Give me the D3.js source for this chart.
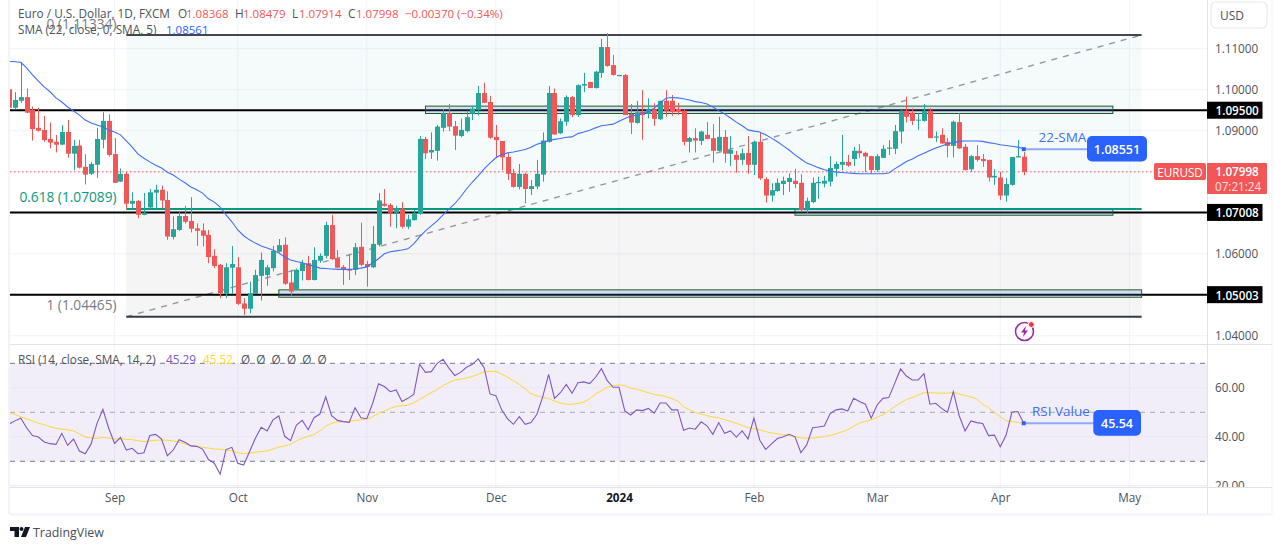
<!DOCTYPE html>
<html><head><meta charset="utf-8">
<script src="https://cdn.jsdelivr.net/npm/d3@7"></script>
<style>
html,body{margin:0;padding:0;background:#fff;overflow:hidden}
svg{display:block}
text{font-family:"Open Sans",sans-serif}
</style></head><body>
<svg id="c" width="1275" height="550"></svg>
<script>
// ---------- data (bars: Aug 2023 .. Apr 2024, index 0 = 1 Sep 2023) ----------
const firstBar = -18;
const opens = [1.1001,1.0956,1.0973,1.0982,1.0951,1.0907,1.0902,1.0880,1.0873,1.0866,1.0897,1.0844,1.0864,1.0812,1.0795,1.0817,1.0878,1.0924,
1.0843,1.0776,1.0795,1.0722,1.0729,1.0695,1.0713,1.0749,1.0756,1.0731,1.0641,1.0658,1.0692,1.0680,1.0662,1.0657,1.0646,1.0595,1.0573,1.0502,1.0566,
1.0567,1.0479,1.0466,1.0502,1.0546,1.0548,1.0565,1.0605,1.0622,1.0530,1.0514,1.0558,1.0577,1.0536,1.0583,1.0595,1.0670,1.0589,1.0568,1.0563,1.0561,1.0617,
1.0575,1.0567,1.0622,1.0722,1.0719,1.0700,1.0709,1.0666,1.0682,1.0697,1.0880,1.0847,1.0851,1.0907,1.0943,1.0911,1.0887,1.0899,1.0941,1.0951,1.0992,
1.0970,1.0885,1.0875,1.0836,1.0797,1.0763,1.0795,1.0758,1.0764,1.0793,1.0873,1.0992,1.0894,1.0922,1.0982,1.0938,1.1010,1.1019,1.1004,1.1041,1.1104,1.1060,1.1033,
1.1036,1.0941,1.0919,1.0946,1.0941,1.0952,1.0928,1.0973,1.0973,1.0953,1.0949,1.0873,1.0882,1.0875,1.0890,1.0882,1.0851,1.0885,1.0844,1.0841,1.0829,1.0846,1.0817,
1.0873,1.0782,1.0742,1.0753,1.0770,1.0775,1.0778,1.0773,1.0709,1.0726,1.0772,1.0771,1.0776,1.0807,1.0817,1.0824,1.0831,1.0851,1.0846,1.0838,1.0804,1.0834,1.0856,1.0856,1.0898,1.0949,1.0944,1.0925,1.0924,1.0949,1.0883,1.0890,1.0873,1.0863,1.0921,1.0861,1.0806,1.0838,1.0831,1.0829,1.0786,1.0786,1.0742,1.0768,1.0835,1.08368];
const highs = [1.1001,1.0994,1.1067,1.1003,1.0959,1.0956,1.0936,1.0920,1.0890,1.0914,1.0926,1.0878,1.0878,1.0843,1.0824,1.0907,1.0945,1.0940,
1.0882,1.0808,1.0799,1.0750,1.0731,1.0748,1.0758,1.0768,1.0766,1.0752,1.0691,1.0702,1.0717,1.0738,1.0674,1.0674,1.0658,1.0611,1.0575,1.0577,1.0619,
1.0592,1.0492,1.0532,1.0561,1.0603,1.0573,1.0619,1.0636,1.0640,1.0561,1.0564,1.0585,1.0595,1.0616,1.0601,1.0678,1.0695,1.0609,1.0573,1.0600,1.0626,1.0676,
1.0583,1.0668,1.0748,1.0758,1.0723,1.0717,1.0726,1.0695,1.0707,1.0887,1.0885,1.0896,1.0914,1.0953,1.0965,1.0924,1.0930,1.0949,1.0960,1.1009,1.1017,
1.0985,1.0914,1.0875,1.0846,1.0807,1.0819,1.0798,1.0780,1.0829,1.0896,1.1009,1.1003,1.0930,1.0986,1.0985,1.1013,1.1041,1.1019,1.1046,1.1124,1.1138,1.1085,1.1036,
1.1038,1.0965,1.0973,1.0999,1.0979,1.0967,1.0973,1.0999,1.0987,1.0968,1.0952,1.0885,1.0906,1.0900,1.0921,1.0916,1.0934,1.0902,1.0887,1.0851,1.0857,1.0887,1.0876,
1.0896,1.0787,1.0772,1.0784,1.0788,1.0796,1.0807,1.0794,1.0737,1.0786,1.0788,1.0790,1.0838,1.0825,1.0890,1.0841,1.0861,1.0867,1.0849,1.0838,1.0843,1.0865,1.0877,1.0914,1.0951,1.0983,1.0955,1.0943,1.0965,1.0955,1.0898,1.0906,1.0882,1.0925,1.0943,1.0868,1.0841,1.0865,1.0843,1.0829,1.0806,1.0800,1.0785,1.0836,1.0877,1.08479];
const lows = [1.0953,1.0952,1.0968,1.0943,1.0876,1.0898,1.0873,1.0857,1.0847,1.0865,1.0834,1.0804,1.0808,1.0769,1.0792,1.0785,1.0857,1.0837,
1.0773,1.0775,1.0709,1.0709,1.0687,1.0694,1.0709,1.0709,1.0711,1.0634,1.0635,1.0656,1.0674,1.0652,1.0619,1.0618,1.0577,1.0565,1.0492,1.0492,1.0502,
1.0475,1.0451,1.0455,1.0502,1.0486,1.0522,1.0557,1.0603,1.0524,1.0498,1.0512,1.0535,1.0535,1.0535,1.0578,1.0589,1.0585,1.0565,1.0524,1.0536,1.0548,1.0570,
1.0520,1.0565,1.0618,1.0715,1.0666,1.0662,1.0662,1.0660,1.0681,1.0695,1.0831,1.0831,1.0827,1.0898,1.0899,1.0853,1.0884,1.0896,1.0926,1.0937,1.0967,
1.0880,1.0833,1.0804,1.0780,1.0761,1.0757,1.0723,1.0743,1.0758,1.0776,1.0871,1.0890,1.0892,1.0912,1.0933,1.0934,1.0994,1.1004,1.1003,1.1029,1.1056,1.1034,1.1033,
1.0938,1.0892,1.0917,1.0878,1.0930,1.0912,1.0926,1.0934,1.0936,1.0938,1.0864,1.0847,1.0847,1.0865,1.0879,1.0822,1.0849,1.0822,1.0814,1.0798,1.0817,1.0795,1.0792,
1.0780,1.0725,1.0727,1.0751,1.0743,1.0751,1.0760,1.0703,1.0697,1.0723,1.0734,1.0762,1.0764,1.0788,1.0804,1.0812,1.0814,1.0834,1.0799,1.0796,1.0800,1.0833,1.0841,1.0843,1.0869,1.0920,1.0914,1.0902,1.0922,1.0882,1.0873,1.0868,1.0835,1.0835,1.0856,1.0803,1.0800,1.0825,1.0812,1.0776,1.0768,1.0731,1.0727,1.0766,1.0835,1.07914];
const closes = [1.0956,1.0975,1.0982,1.0944,1.0904,1.0900,1.0877,1.0871,1.0866,1.0897,1.0844,1.0863,1.0810,1.0793,1.0819,1.0880,1.0924,1.0841,
1.0773,1.0795,1.0722,1.0729,1.0695,1.0700,1.0750,1.0756,1.0730,1.0642,1.0660,1.0692,1.0678,1.0661,1.0656,1.0644,1.0592,1.0570,1.0504,1.0567,1.0575,
1.0478,1.0466,1.0504,1.0548,1.0585,1.0567,1.0607,1.0621,1.0527,1.0508,1.0561,1.0577,1.0536,1.0585,1.0595,1.0670,1.0587,1.0566,1.0561,1.0559,1.0616,1.0573,
1.0568,1.0624,1.0730,1.0717,1.0700,1.0711,1.0666,1.0684,1.0700,1.0880,1.0845,1.0853,1.0910,1.0943,1.0910,1.0888,1.0902,1.0933,1.0954,1.0992,1.0968,
1.0883,1.0877,1.0835,1.0795,1.0763,1.0795,1.0758,1.0765,1.0795,1.0876,1.0992,1.0891,1.0923,1.0982,1.0938,1.1011,1.1014,1.1004,1.1044,1.1104,1.1058,1.1036,1.1036,
1.0938,1.0920,1.0945,1.0938,1.0952,1.0929,1.0973,1.0949,1.0946,1.0946,1.0873,1.0882,1.0876,1.0898,1.0880,1.0851,1.0885,1.0844,1.0853,1.0829,1.0845,1.0817,1.0873,
1.0784,1.0742,1.0755,1.0773,1.0778,1.0785,1.0770,1.0707,1.0729,1.0773,1.0775,1.0778,1.0809,1.0819,1.0824,1.0815,1.0851,1.0845,1.0837,1.0804,1.0838,1.0856,1.0859,1.0899,1.0949,1.0934,1.0924,1.0927,1.0949,1.0882,1.0886,1.0869,1.0863,1.0922,1.0857,1.0804,1.0838,1.0829,1.0826,1.0786,1.0790,1.0742,1.0770,1.0836,1.0838,1.07998];
const sma22 = [1.1069,1.1068,1.1067,1.1053,1.1036,1.1021,1.1007,1.0995,1.0980,1.0970,1.0958,1.0948,1.0938,1.0926,1.0919,1.0914,1.0909,1.0902,
1.0897,1.0890,1.0875,1.0860,1.0843,1.0833,1.0824,1.0816,1.0809,1.0799,1.0792,1.0782,1.0773,1.0763,1.0756,1.0748,1.0734,1.0726,1.0714,1.0695,1.0678,
1.0658,1.0644,1.0634,1.0626,1.0619,1.0614,1.0609,1.0602,1.0592,1.0585,1.0581,1.0578,1.0573,1.0570,1.0565,1.0564,1.0563,1.0562,1.0562,1.0562,1.0563,1.0565,
1.0568,1.0578,1.0588,1.0600,1.0605,1.0607,1.0609,1.0612,1.0624,1.0641,1.0656,1.0668,1.0680,1.0695,1.0709,1.0722,1.0739,1.0758,1.0775,1.0790,1.0807,
1.0821,1.0834,1.0842,1.0846,1.0848,1.0851,1.0854,1.0860,1.0867,1.0871,1.0876,1.0879,1.0881,1.0884,1.0885,1.0893,1.0897,1.0901,1.0907,1.0912,1.0914,1.0916,
1.0923,1.0930,1.0936,1.0937,1.0943,1.0947,1.0955,1.0968,1.0979,1.0981,1.0980,1.0978,1.0975,1.0971,1.0969,1.0965,1.0958,1.0949,1.0941,1.0931,1.0921,1.0912,1.0902,1.0899,
1.0897,1.0890,1.0882,1.0873,1.0863,1.0853,1.0841,1.0831,1.0821,1.0816,1.0810,1.0805,1.0802,1.0799,1.0798,1.0797,1.0796,1.0795,1.0795,1.0795,1.0795,1.0795,1.0797,1.0807,1.0816,1.0825,1.0831,1.0839,1.0845,1.0852,1.0858,1.0863,1.0868,1.0871,1.0874,1.0875,1.0875,1.0875,1.0874,1.0871,1.0869,1.0866,1.0864,1.0862,1.0860,1.0856];
const rsi = [45.1,46.5,47.6,43.7,40.5,39.9,37.9,37.2,36.9,41.4,36.5,39.1,34.2,33.1,37.1,45.5,51.2,43.5,
37.3,39.7,34.6,35.3,33.1,33.5,40.5,41.0,39.1,32.3,34.6,38.8,37.8,36.3,36.1,35.0,30.7,29.2,24.7,34.8,35.7,
29.2,28.5,33.9,39.4,43.9,42.4,46.9,48.5,40.2,38.4,44.8,46.7,42.9,47.8,49.3,56.3,48.6,46.7,46.2,45.9,51.9,47.8,
47.4,53.7,61.6,60.5,58.4,59.1,54.4,55.7,57.3,69.6,66.3,66.6,70.0,71.6,68.0,65.0,66.3,68.4,69.6,71.8,68.2,
57.5,56.8,51.0,47.3,45.1,48.2,45.1,45.8,49.2,56.4,65.5,55.7,58.0,61.4,57.8,62.1,62.4,61.7,64.3,67.8,62.9,60.2,60.2,
50.5,48.9,51.0,50.7,51.6,49.6,53.8,53.8,51.0,51.0,42.7,43.6,43.1,46.1,44.5,41.0,45.8,41.4,42.4,39.9,42.4,39.1,47.6,
38.6,34.9,37.1,39.3,40.0,41.0,40.0,33.5,36.7,43.7,44.0,44.4,49.5,51.0,51.4,50.5,55.7,54.4,53.3,47.6,53.0,55.7,56.0,61.8,67.7,64.8,63.2,63.2,65.8,53.3,53.7,51.6,50.0,58.4,48.6,42.4,46.5,45.8,45.4,40.5,40.7,35.9,40.7,50.1,50.3,45.5];
const rsiMa = [49.9,49.2,48.1,47.4,46.5,45.5,45.0,44.1,43.5,43.1,42.8,42.4,41.2,39.9,39.5,39.4,39.7,39.5,
39.1,39.1,39.0,38.8,38.4,38.0,38.3,38.6,38.7,38.6,38.3,37.8,37.1,36.4,36.1,35.7,35.4,35.0,34.9,34.6,34.3,
33.5,33.1,33.3,33.7,34.0,34.2,35.0,35.8,36.3,36.9,38.3,39.4,40.2,40.9,42.4,44.4,45.5,46.1,46.2,46.3,46.7,46.9,
47.3,48.2,49.6,50.5,51.6,52.4,52.7,52.9,53.9,55.2,56.7,58.0,59.3,60.9,62.1,63.2,63.5,64.0,64.6,65.5,66.5,
66.7,66.7,65.6,64.3,62.9,61.4,59.5,57.6,56.7,56.1,55.6,54.6,53.8,53.3,53.3,53.6,54.2,55.6,57.5,58.8,60.2,60.9,61.2,
60.9,59.8,59.4,58.7,58.0,57.3,56.9,56.4,55.6,54.6,52.3,51.0,49.9,49.3,48.6,48.1,47.7,47.0,46.3,45.5,44.7,43.7,43.3,
42.8,42.1,41.6,41.2,40.9,40.6,40.1,39.6,39.4,39.5,39.8,40.1,40.6,41.2,42.0,42.9,44.3,45.6,46.3,46.9,48.0,49.0,50.5,52.3,53.8,55.2,56.0,57.1,58.0,58.0,57.9,57.8,57.8,58.2,57.5,56.8,56.3,55.4,53.3,51.9,49.9,48.2,46.6,46.2,45.9,45.5];

const priceTicks = [1.11,1.10,1.09,1.06,1.04];
const rsiTicks = [60,40,20];
const rsiBands = [70,50,30];
const monthBars = [0,21,43,65,86,109,130,151,173];
const monthLabels = ["Sep","Oct","Nov","Dec","2024","Feb","Mar","Apr","May"];
const keyLevels = [1.09500,1.07008,1.05003];
const fibPrices = [1.11334,1.07089,1.04465];
const fibNames = ["0 (1.11334)","0.618 (1.07089)","1 (1.04465)"];
const fibBars = [2,175.1];
const boxLeft = [53,116,28];
const boxRight = [170.2,170.2,175.1];
const boxTop = [1.0960,1.0709,1.0512];
const boxBottom = [1.0942,1.0694,1.0494];
const lastPrice = 1.07998, smaLabel = 1.08551, rsiLabel = 45.54;

// ---------- scales ----------
const P = {l:10,r:1207,t:0,b:344,rt:345,rb:487,ab:514};
const x = d3.scaleLinear().domain([0,173]).range([114.6,1129.3]);
const y = d3.scaleLinear().domain([1.04,1.11]).range([335.8,48.7]);
const yR = d3.scaleLinear().domain([20,70]).range([485.8,363.3]);
const bars = d3.range(opens.length).map(i=>i+firstBar);
const UP="#26a69a", DN="#f25656", INK="#4c525e", BLUE="#2962ff";

const svg = d3.select("#c");
const defs = svg.append("defs");
defs.append("clipPath").attr("id","pa").append("rect").attr("x",P.l).attr("y",0).attr("width",P.r-P.l).attr("height",P.b);
defs.append("clipPath").attr("id","pr").append("rect").attr("x",P.l).attr("y",P.rt).attr("width",P.r-P.l).attr("height",P.rb-P.rt);
defs.append("clipPath").attr("id","ar").append("rect").attr("x",P.r).attr("y",P.rt).attr("width",65).attr("height",P.rb-P.rt);

const T=(s,xx,yy,size,fill,opt={})=>svg.append("text").text(s).attr("x",xx).attr("y",yy).attr("font-size",size).attr("fill",fill)
  .attr("text-anchor",opt.a||"start").attr("dominant-baseline","central").attr("font-weight",opt.w||400);

// ---------- grid ----------
const main = svg.append("g").attr("clip-path","url(#pa)");
const grid="#f0f3fa";
main.selectAll(".vg").data(monthBars).join("line").attr("x1",x).attr("x2",x).attr("y1",0).attr("y2",P.b).attr("stroke",grid);
main.selectAll(".hg").data(priceTicks.concat([1.08,1.07,1.05])).join("line").attr("x1",P.l).attr("x2",P.r).attr("y1",y).attr("y2",y).attr("stroke",grid);

// ---------- fib zones ----------
main.append("rect").attr("x",x(fibBars[0])).attr("width",x(fibBars[1])-x(fibBars[0])).attr("y",y(fibPrices[0])).attr("height",y(fibPrices[1])-y(fibPrices[0])).attr("fill","#089981").attr("opacity",.045);
main.append("rect").attr("x",x(fibBars[0])).attr("width",x(fibBars[1])-x(fibBars[0])).attr("y",y(fibPrices[1])).attr("height",y(fibPrices[2])-y(fibPrices[1])).attr("fill","#777777").attr("opacity",.07);
main.append("line").attr("x1",x(fibBars[0])).attr("y1",y(fibPrices[2])).attr("x2",x(fibBars[1])).attr("y2",y(fibPrices[0])).attr("stroke","#9598a1").attr("stroke-width",1.4).attr("stroke-dasharray","6 6");

// ---------- drawings (beneath the candles) ----------
main.selectAll(".kl").data(keyLevels).join("line").attr("x1",P.l).attr("x2",P.r).attr("y1",y).attr("y2",y).attr("stroke","#000").attr("stroke-width",2);
main.selectAll(".bx").data(boxLeft).join("rect")
  .attr("x",d=>x(d)).attr("width",(d,i)=>x(boxRight[i])-x(d))
  .attr("y",(d,i)=>y(boxTop[i])).attr("height",(d,i)=>y(boxBottom[i])-y(boxTop[i]))
  .attr("fill","#4f7fd6").attr("fill-opacity",.2).attr("stroke","#1b5e20").attr("stroke-width",1);
const fibCols=["#434651","#089981","#363a45"];
main.selectAll(".fl").data(fibPrices).join("line").attr("x1",x(fibBars[0])).attr("x2",x(fibBars[1])).attr("y1",y).attr("y2",y)
  .attr("stroke",(d,i)=>fibCols[i]).attr("stroke-width",2);

// ---------- last price dotted line ----------
main.append("line").attr("x1",P.l).attr("x2",1154).attr("y1",y(lastPrice)).attr("y2",y(lastPrice)).attr("stroke",DN).attr("stroke-width",1).attr("stroke-dasharray","1.5 2.5");

// ---------- candles ----------
const col=i=>closes[i]>=opens[i]?UP:DN;
main.selectAll(".w").data(bars).join("line")
  .attr("x1",b=>Math.round(x(b))+.5).attr("x2",b=>Math.round(x(b))+.5)
  .attr("y1",(b,i)=>y(highs[i])).attr("y2",(b,i)=>y(lows[i]))
  .attr("stroke",(b,i)=>col(i)).attr("stroke-width",1);
main.selectAll(".b").data(bars).join("rect")
  .attr("x",b=>Math.round(x(b))-2).attr("width",5)
  .attr("y",(b,i)=>Math.min(y(opens[i]),y(closes[i])))
  .attr("height",(b,i)=>Math.max(1,Math.abs(y(opens[i])-y(closes[i]))))
  .attr("fill",(b,i)=>col(i));

// ---------- SMA ----------
main.append("path").datum(bars).attr("fill","none").attr("stroke","#3f70f5").attr("stroke-width",1.1)
  .attr("d",d3.line().x(b=>x(b)).y((b,i)=>y(sma22[i])));

// fib labels
const fibTextCols=["#787b86","#089981","#787b86"];
fibNames.forEach((n,i)=>T(n,116.5,y(fibPrices[i])-(i==1?13:12),13.7,fibTextCols[i],{a:"end"}));

// 22-SMA callout
const lastX=x(bars[bars.length-1]);
main.append("line").attr("x1",lastX).attr("x2",1090).attr("y1",y(smaLabel)).attr("y2",y(smaLabel)).attr("stroke","#8fa9fb").attr("stroke-width",2);
main.append("rect").attr("x",lastX-2).attr("y",y(smaLabel)-2).attr("width",4).attr("height",4).attr("fill",BLUE);
T("22-SMA",1038.5,137,13.5,"#3e6ff5");
svg.append("rect").attr("x",1087).attr("y",136).attr("width",60).attr("height",25.5).attr("rx",5).attr("fill",BLUE);
T(d3.format(".5f")(smaLabel),1117,149,12.5,"#fff",{a:"middle",w:600});

// energy icon
const ic=svg.append("g").attr("transform","translate(1024.5,331.5)");
ic.append("circle").attr("r",9).attr("fill","#fff").attr("stroke","#9c27b0").attr("stroke-width",1.6);
ic.append("path").attr("d","M1.5,-5.5L-3.5,1H-0.5L-1.5,5.5L3.5,-1H0.5Z").attr("fill","#9c27b0");
ic.append("circle").attr("cx",6.8).attr("cy",-7).attr("r",3).attr("fill","#f23645").attr("stroke","#fff");

// ---------- RSI pane ----------
const rp = svg.append("g").attr("clip-path","url(#pr)");
rp.selectAll(".vg").data(monthBars).join("line").attr("x1",x).attr("x2",x).attr("y1",P.rt).attr("y2",P.rb).attr("stroke",grid);
rp.append("rect").attr("x",P.l).attr("width",P.r-P.l).attr("y",yR(70)).attr("height",yR(30)-yR(70)).attr("fill","#7e57c2").attr("opacity",.1);
rp.selectAll(".hg").data(rsiTicks).join("line").attr("x1",P.l).attr("x2",P.r).attr("y1",yR).attr("y2",yR).attr("stroke","#e9e6f3");
rp.selectAll(".bd").data(rsiBands).join("line").attr("x1",P.l).attr("x2",P.r).attr("y1",yR).attr("y2",yR)
  .attr("stroke",(d,i)=>i==1?"#aaa6b5":"#787b86").attr("stroke-width",1).attr("stroke-dasharray","5 5");
rp.append("path").datum(bars).attr("fill","none").attr("stroke","#fdd835").attr("stroke-width",1)
  .attr("d",d3.line().x(b=>x(b)).y((b,i)=>yR(rsiMa[i])));
rp.append("path").datum(bars).attr("fill","none").attr("stroke","#7e57c2").attr("stroke-width",1.1)
  .attr("d",d3.line().x(b=>x(b)).y((b,i)=>yR(rsi[i])));
rp.append("line").attr("x1",lastX).attr("x2",1096).attr("y1",yR(rsiLabel)).attr("y2",yR(rsiLabel)).attr("stroke","#8fa9fb").attr("stroke-width",2);
rp.append("rect").attr("x",lastX-2).attr("y",yR(rsiLabel)-2).attr("width",4).attr("height",4).attr("fill",BLUE);
T("RSI Value",1032,411,13.5,"#3e6ff5");
svg.append("rect").attr("x",1093.3).attr("y",410).attr("width",47.7).attr("height",25.7).attr("rx",5).attr("fill",BLUE);
T(d3.format(".2f")(rsiLabel),1117,423,12.5,"#fff",{a:"middle",w:600});

// ---------- frame ----------
const fr=(a,b,c,d,s,w)=>svg.append("line").attr("x1",a).attr("y1",b).attr("x2",c).attr("y2",d).attr("stroke",s).attr("stroke-width",w);
fr(P.l-1,0,P.l-1,P.ab,"#f0f3fa",2);
fr(P.l,P.ab+.5,1272,P.ab+.5,"#f0f3fa",2);
fr(1272,0,1272,P.ab+1,"#f0f3fa",1);
fr(P.l,344.5,1272,344.5,"#e0e3eb",1);
fr(P.l,487.5,1272,487.5,"#e0e3eb",1);
fr(P.r+.5,0,P.r+.5,P.ab,"#e0e3eb",1);

// ---------- axes ----------
const ax=svg.append("g").attr("transform",`translate(${P.r},0)`)
  .call(d3.axisRight(y).tickValues(priceTicks).tickFormat(d3.format(".5f")).tickSize(0).tickPadding(8));
const ax2=svg.append("g").attr("clip-path","url(#ar)").append("g").attr("transform",`translate(${P.r},0)`)
  .call(d3.axisRight(yR).tickValues(rsiTicks).tickFormat(d3.format(".2f")).tickSize(0).tickPadding(8));
const ax3=svg.append("g").attr("transform",`translate(0,${P.rb})`)
  .call(d3.axisBottom(x).tickValues(monthBars).tickFormat((d,i)=>monthLabels[i]).tickSize(0).tickPadding(7));
[ax,ax2,ax3].forEach(g=>{g.select(".domain").remove();
  g.selectAll("text").attr("font-family",'"Open Sans",sans-serif').attr("font-size",11.7).attr("fill","#4c525e");});
ax3.selectAll("text").filter(d=>d===86).attr("font-weight",700).attr("fill","#131722");

// ---------- price tags ----------
keyLevels.forEach(v=>{
  svg.append("rect").attr("x",P.r).attr("y",y(v)-8.5).attr("width",55.5).attr("height",17).attr("fill","#000");
  T(d3.format(".5f")(v),1215.5,y(v),11.7,"#fff",{w:600});
});
svg.append("rect").attr("x",1154).attr("y",163).attr("width",52).attr("height",17).attr("rx",2).attr("fill",DN);
T("EURUSD",1180,171.5,11.7,"#fff",{a:"middle"});
svg.append("rect").attr("x",P.r).attr("y",163).attr("width",60).attr("height",31).attr("rx",1).attr("fill",DN);
T(d3.format(".5f")(lastPrice),1215.5,171,11.7,"#fff",{w:600});
T("07:21:24",1215,186,11.7,"#fde0e0");
svg.append("rect").attr("x",1211).attr("y",2).attr("width",56).attr("height",26).attr("rx",5).attr("fill","#fff").attr("stroke","#e6e9f0").attr("stroke-width",1.2);
T("USD",1220,15.5,12,"#4c525e");

// ---------- legends ----------
T("Euro / U.S. Dollar, 1D, FXCM",18,13,11.8,INK);
[["O",178],["H",235],["L",292],["C",348]].forEach(d=>T(d[0],d[1],13,11.8,INK));
[["1.08368",186],["1.08479",243],["1.07914",299],["1.07998",356],["\u22120.00370 (\u22120.34%)",405]].forEach(d=>T(d[0],d[1],13,11.5,DN));
T("SMA (22, close, 0, SMA, 5)",18,29,11.8,INK);
T("1.08561",166,29,11.5,BLUE);
T("RSI (14, close, SMA, 14, 2)",18,359,11.8,INK);
T("45.29",166,359,11.8,"#7e57c2");
T("45.52",203,359,11.8,"#fdd835");
d3.range(6).forEach(k=>T("\u00d8",241+15.3*k,359,11.8,INK));

// ---------- logo ----------
const lg=svg.append("g").attr("fill","#131722");
lg.append("path").attr("d","M10,527H19V537H14.5V531H10Z");
lg.append("circle").attr("cx",21.5).attr("cy",529).attr("r",2);
lg.append("path").attr("d","M25,527H30L26,537H21Z");
T("TradingView",33,532.5,12.4,"#4a4e58");
</script>
</body></html>
